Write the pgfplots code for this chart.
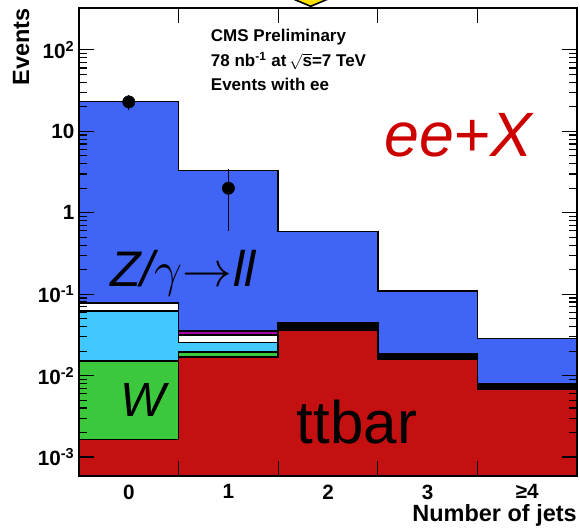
\documentclass[border=0pt]{standalone}
\usepackage{pgfplots}
\pgfplotsset{compat=1.18}
\usepackage{fontspec}
\setmainfont{Liberation Sans}
\definecolor{zblue}{RGB}{64,100,245}
\definecolor{lcyan}{RGB}{64,200,255}
\definecolor{wgreen}{RGB}{60,200,60}
\definecolor{tred}{RGB}{196,16,16}
\definecolor{mmag}{RGB}{170,0,170}
\definecolor{eered}{RGB}{205,0,0}
\newcommand{\ticfont}{\fontsize{15.5}{18}\selectfont\bfseries}
\begin{document}
\begin{tikzpicture}
\useasboundingbox (0,0) rectangle (435pt,396.75pt);
\begin{axis}[
  at={(59.25pt,39.75pt)}, anchor=south west,
  scale only axis, width=373.5pt, height=351pt,
  ymode=log,
  xmin=-0.5, xmax=4.5, ymin=5.85e-4, ymax=327,
  xtick={0.5,1.5,2.5,3.5}, xticklabels={,,,},
  extra x ticks={0,1,2,3,4},
  extra x tick labels={0,1,2,3,≥4},
  extra x tick style={major tick length=0pt},
  ytick={1e-3,1e-2,1e-1,1,10,100},
  yticklabels={10\textsuperscript{-3},10\textsuperscript{-2},10\textsuperscript{-1},1,10,10\textsuperscript{2}},
  tick align=inside,
  major tick length=11pt, minor tick length=6pt,
  tick style={line width=0.9pt, black},
  axis line style={line width=1.1pt},
  tick label style={font=\ticfont},
  x tick label style={yshift=-3pt},
  axis on top,
  clip=true,
]
% cumulative stack, drawn from top layer down
\addplot[fill=zblue, draw=black, line width=1.1pt, const plot] coordinates {
 (-0.5,1e-6) (-0.5,23.2) (0.5,3.32) (1.5,0.59) (2.5,0.109) (3.5,0.0285) (4.5,0.0285) (4.5,1e-6)} -- cycle;
\addplot[fill=mmag, draw=black, line width=1.1pt, const plot] coordinates {
 (-0.5,1e-6) (-0.5,0.0776) (0.5,0.0355) (1.5,0.0445) (2.5,0.0185) (3.5,0.00796) (4.5,0.00796) (4.5,1e-6)} -- cycle;
\addplot[fill=white, draw=black, line width=1.1pt, const plot] coordinates {
 (-0.5,1e-6) (-0.5,0.0776) (0.5,0.0317) (1.5,0.0445) (2.5,0.0185) (3.5,0.00796) (4.5,0.00796) (4.5,1e-6)} -- cycle;
\addplot[fill=lcyan, draw=black, line width=1.1pt, const plot] coordinates {
 (-0.5,1e-6) (-0.5,0.0624) (0.5,0.0255) (1.5,0.0445) (2.5,0.0185) (3.5,0.00796) (4.5,0.00796) (4.5,1e-6)} -- cycle;
\addplot[fill=wgreen, draw=black, line width=1.1pt, const plot] coordinates {
 (-0.5,1e-6) (-0.5,0.0152) (0.5,0.0196) (1.5,0.0445) (2.5,0.0185) (3.5,0.00796) (4.5,0.00796) (4.5,1e-6)} -- cycle;
\addplot[fill=black, draw=black, line width=1.1pt, const plot] coordinates {
 (-0.5,1e-6) (-0.5,0.00164) (0.5,0.0169) (1.5,0.0445) (2.5,0.0185) (3.5,0.00796) (4.5,0.00796) (4.5,1e-6)} -- cycle;
\addplot[fill=tred, draw=black, line width=1.1pt, const plot] coordinates {
 (-0.5,1e-6) (-0.5,0.00164) (0.5,0.0169) (1.5,0.036) (2.5,0.0157) (3.5,0.00686) (4.5,0.00686) (4.5,1e-6)} -- cycle;
% data
\addplot[only marks, mark=*, mark size=4.6pt, black,
  error bars/.cd, y dir=both, y explicit,
  error bar style={line width=1pt, black}, error mark=none]
  coordinates {(0,23) +- (0,4.8) (1,2) +- (0,1.41)};
\end{axis}
% decoration arrow at top (cut off)
\filldraw[fill=yellow!85!orange, draw=black, line width=1.2pt]
  (214pt,400pt) -- (252pt,400pt) -- (233pt,392pt) -- cycle;
% texts
\node[anchor=base west, inner sep=0pt, font=\fontsize{12.75}{15}\selectfont\bfseries] at (158pt,365.5pt) {CMS Preliminary};
\node[anchor=base west, inner sep=0pt, font=\fontsize{12.75}{15}\selectfont\bfseries] at (158pt,346.7pt) {78 nb\textsuperscript{-1} at\,$\sqrt{\mbox{s}}$=7 TeV};
\node[anchor=base west, inner sep=0pt, font=\fontsize{12.75}{15}\selectfont\bfseries] at (158pt,328.7pt) {Events with ee};
\node[anchor=base west, inner sep=0pt, text=eered, font=\fontsize{47}{50}\selectfont\itshape] at (288pt,279.2pt) {ee+X};
\node[anchor=base west, inner sep=0pt, font=\fontsize{37.5}{40}\selectfont\itshape] at (82.5pt,181.7pt) {Z/{\fontsize{24.88}{30}\selectfont\scalebox{1.5}{$\gamma{\rightarrow}$}}\kern1pt ll};
\node[anchor=base west, inner sep=0pt, font=\fontsize{36}{40}\selectfont\itshape] at (90pt,84.2pt) {W};
\node[anchor=base west, inner sep=0pt, font=\fontsize{45}{50}\selectfont] at (222.5pt,64.3pt) {ttbar};
\node[anchor=base east, inner sep=0pt, rotate=90, font=\fontsize{17.6}{20}\selectfont\bfseries] at (21.75pt,390.75pt) {Events};
\node[anchor=base east, inner sep=0pt, font=\fontsize{17.6}{20}\selectfont\bfseries] at (432.75pt,5.6pt) {Number of jets};
\end{tikzpicture}
\end{document}
